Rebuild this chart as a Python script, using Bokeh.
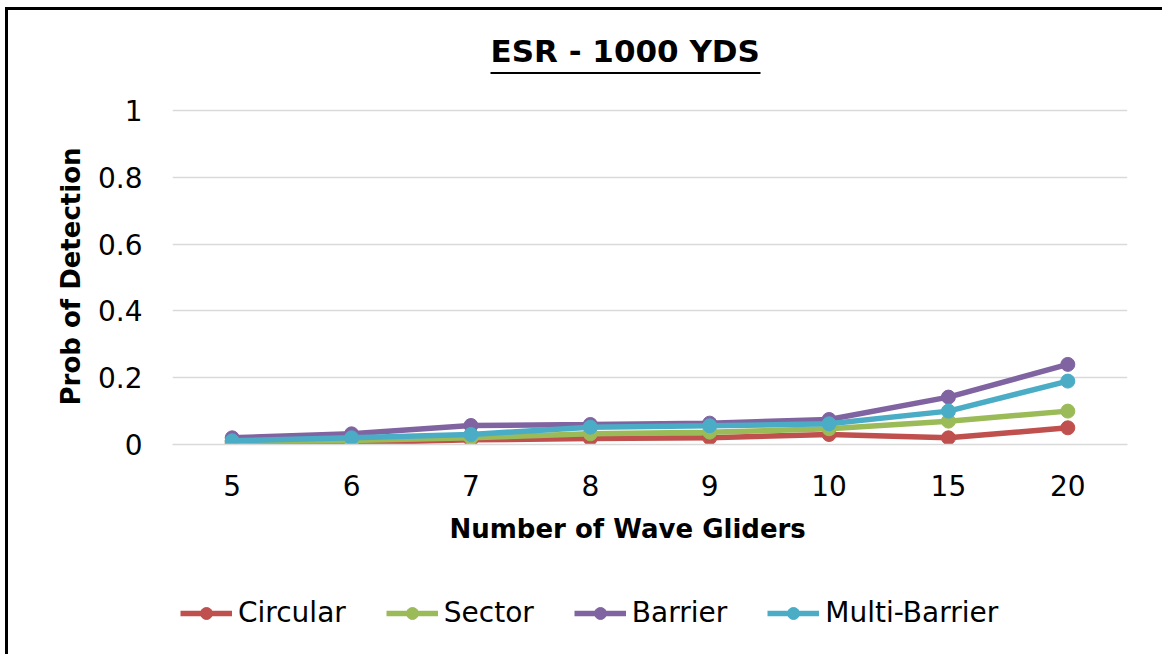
from bokeh.plotting import figure
from bokeh.layouts import column
from bokeh.models import (BoxAnnotation, Legend, LegendItem, FixedTicker, Title,
                          NumeralTickFormatter, Range1d, FactorRange)
from bokeh.embed import file_html
from bokeh.resources import INLINE

# ---- data ----
gliders = ["5", "6", "7", "8", "9", "10", "15", "20"]
circular = [0.004, 0.005, 0.014, 0.018, 0.02, 0.03, 0.02, 0.05]
sector = [0.01, 0.012, 0.02, 0.032, 0.037, 0.047, 0.07, 0.10]
barrier = [0.02, 0.032, 0.057, 0.06, 0.064, 0.075, 0.142, 0.24]
multi_barrier = [0.011, 0.02, 0.03, 0.052, 0.056, 0.062, 0.10, 0.19]
y_ticks = [0, 0.2, 0.4, 0.6, 0.8, 1.0]
title_text = "ESR - 1000 YDS"
x_title = "Number of Wave Gliders"
y_title = "Prob of Detection"

series = [
    ("Circular", circular, "#C0504D"),
    ("Sector", sector, "#9BBB59"),
    ("Barrier", barrier, "#8064A2"),
    ("Multi-Barrier", multi_barrier, "#4BACC6"),
]

FONT = "DejaVu Sans"
Y_TOP = 1.1265  # frame extends a little above 1 so the title underline fits

p = figure(width=1154, height=550, x_range=FactorRange(*gliders, range_padding=0),
           y_range=Range1d(0, Y_TOP), output_backend="svg", toolbar_location=None,
           min_border_left=164, min_border_right=35, min_border_top=58,
           min_border_bottom=109)
p.x_range.factor_padding = 0
p.outline_line_color = None
p.background_fill_color = "white"

# title
p.title = Title(text=title_text, align="left", offset=318, standoff=0,
                text_font=FONT, text_font_style="bold", text_font_size="31px",
                text_color="black")
underline = BoxAnnotation(left=318, right=588, bottom=1.1103, top=1.1162,
                          left_units="screen", right_units="screen",
                          fill_color="black", fill_alpha=1.0, line_color=None,
                          level="overlay")
p.add_layout(underline)

# axes
p.xaxis.axis_line_color = "#D9D9D9"
p.xaxis.axis_line_width = 1.5
p.xaxis.major_tick_line_color = None
p.xaxis.minor_tick_line_color = None
p.xaxis.major_label_text_font = FONT
p.xaxis.major_label_text_font_size = "28px"
p.xaxis.major_label_text_color = "black"
p.xaxis.major_label_standoff = 24

p.yaxis.axis_line_color = None
p.yaxis.major_tick_line_color = None
p.yaxis.minor_tick_line_color = None
p.yaxis.ticker = FixedTicker(ticks=y_ticks)
p.yaxis.formatter = NumeralTickFormatter(format="0.[0]")
p.yaxis.major_label_text_font = FONT
p.yaxis.major_label_text_font_size = "28px"
p.yaxis.major_label_text_color = "black"
p.yaxis.major_label_standoff = 24

# axis titles, placed like the reference (not centred on the frame)
p.add_layout(Title(text=x_title, align="left", offset=277, standoff=30,
                   vertical_align="top", text_font=FONT, text_font_style="bold",
                   text_font_size="26px", text_color="black"), "below")
p.add_layout(Title(text=y_title, align="left", offset=39, standoff=18,
                   text_font=FONT, text_font_style="bold", text_font_size="26px",
                   text_color="black"), "left")

p.xgrid.grid_line_color = None
p.ygrid.ticker = FixedTicker(ticks=y_ticks)
p.ygrid.grid_line_color = "#D9D9D9"
p.ygrid.grid_line_width = 1.5

for name, vals, color in series:
    p.line(gliders, vals, line_color=color, line_width=5.5)
    p.scatter(gliders, vals, size=14, fill_color=color, line_color=color)

# legend strip: a second figure below the chart whose y range hides the copies
# of the series, so that only the legend shows
q = figure(width=1154, height=94, x_range=FactorRange(*gliders),
           y_range=Range1d(5, 6), output_backend="svg", toolbar_location=None,
           x_axis_type=None, y_axis_type=None, min_border=0)
q.outline_line_color = None
q.xgrid.visible = False
q.ygrid.visible = False
items = []
for name, vals, color in series:
    lr = q.line(gliders, vals, line_color=color, line_width=5.5)
    sr = q.scatter(gliders, vals, size=14, fill_color=color, line_color=color)
    items.append(LegendItem(label=name, renderers=[lr, sr]))
legend = Legend(items=items, location=(8, 25), orientation="horizontal",
                padding=0, margin=0, spacing=40, glyph_width=52, glyph_height=30,
                label_height=30, label_standoff=6, border_line_color=None,
                background_fill_alpha=0, label_text_font=FONT,
                label_text_font_size="28px", label_text_color="black")
q.add_layout(legend)

layout = column(p, q, spacing=0,
                styles={"border-top": "3px solid black", "border-left": "3px solid black",
                        "margin-left": "5px", "margin-top": "7px"})

open("out.html", "w").write(file_html(layout, INLINE))
